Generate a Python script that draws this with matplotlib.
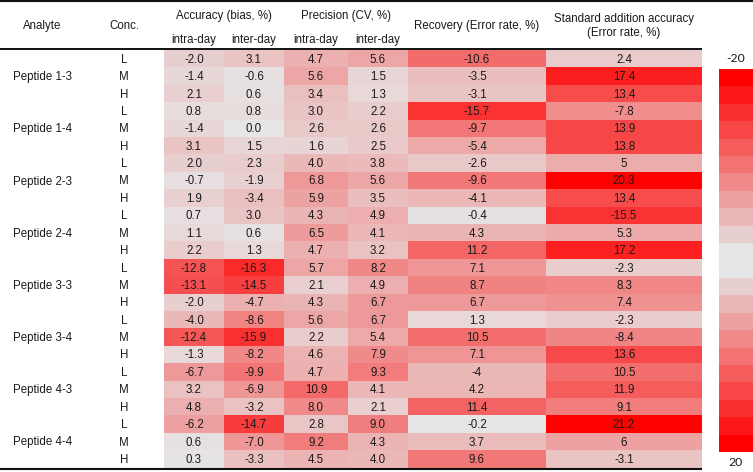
import numpy as np
import matplotlib
matplotlib.use("Agg")
import matplotlib.pyplot as plt
from matplotlib.colors import LinearSegmentedColormap, Normalize

# ---------------- data ----------------
analytes = ["Peptide 1-3", "Peptide 1-4", "Peptide 2-3", "Peptide 2-4",
            "Peptide 3-3", "Peptide 3-4", "Peptide 4-3", "Peptide 4-4"]
conc = ["L", "M", "H"]

acc_intra = ["-2.0", "-1.4", "2.1", "0.8", "-1.4", "3.1", "2.0", "-0.7", "1.9", "0.7", "1.1", "2.2",
             "-12.8", "-13.1", "-2.0", "-4.0", "-12.4", "-1.3", "-6.7", "3.2", "4.8", "-6.2", "0.6", "0.3"]
acc_inter = ["3.1", "-0.6", "0.6", "0.8", "0.0", "1.5", "2.3", "-1.9", "-3.4", "3.0", "0.6", "1.3",
             "-16.3", "-14.5", "-4.7", "-8.6", "-15.9", "-8.2", "-9.9", "-6.9", "-3.2", "-14.7", "-7.0", "-3.3"]
prec_intra = ["4.7", "5.6", "3.4", "3.0", "2.6", "1.6", "4.0", "6.8", "5.9", "4.3", "6.5", "4.7",
              "5.7", "2.1", "4.3", "5.6", "2.2", "4.6", "4.7", "10.9", "8.0", "2.8", "9.2", "4.5"]
prec_inter = ["5.6", "1.5", "1.3", "2.2", "2.6", "2.5", "3.8", "5.6", "3.5", "4.9", "4.1", "3.2",
              "8.2", "4.9", "6.7", "6.7", "5.4", "7.9", "9.3", "4.1", "2.1", "9.0", "4.3", "4.0"]
recovery = ["-10.6", "-3.5", "-3.1", "-15.7", "-9.7", "-5.4", "-2.6", "-9.6", "-4.1", "-0.4", "4.3", "11.2",
            "7.1", "8.7", "6.7", "1.3", "10.5", "7.1", "-4", "4.2", "11.4", "-0.2", "3.7", "9.6"]
std_add = ["2.4", "17.4", "13.4", "-7.8", "13.9", "13.8", "5", "20.3", "13.4", "-15.5", "5.3", "17.2",
           "-2.3", "8.3", "7.4", "-2.3", "-8.4", "13.6", "10.5", "11.9", "9.1", "21.2", "6", "-3.1"]

columns = [acc_intra, acc_inter, prec_intra, prec_inter, recovery, std_add]
colorbar_min, colorbar_max = -20, 20

# ---------------- layout (pixels) ----------------
W, H = 753, 472
xedges = np.array([164, 224, 284, 348, 408, 546, 702], dtype=float)
row_h = 17.4
y0 = 50.0
nrows = len(acc_intra)
yedges = y0 + row_h * np.arange(nrows + 1)

font = "Liberation Sans"
fs = 8.3
txt_col = "#1a1a1a"

cmap = LinearSegmentedColormap.from_list("grey_red", ["#E6E6E6", "#FF0000"])
norm = Normalize(vmin=0, vmax=20)

fig = plt.figure(figsize=(W / 100, H / 100), dpi=100)
ax = fig.add_axes([0, 0, 1, 1])
ax.set_xlim(0, W)
ax.set_ylim(H, 0)
ax.axis("off")

# heat cells
vals = np.array([[float(v) for v in col] for col in columns]).T  # rows x cols
ax.pcolormesh(xedges, yedges, np.abs(vals), cmap=cmap, norm=norm, shading="flat")

# cell texts
xc = (xedges[:-1] + xedges[1:]) / 2
yc = (yedges[:-1] + yedges[1:]) / 2 + 1.0
for j, col in enumerate(columns):
    for i, s in enumerate(col):
        ax.text(xc[j], yc[i], s, ha="center", va="center", fontsize=fs,
                family=font, color=txt_col)

# row labels
for i in range(nrows):
    ax.text(124, yc[i], conc[i % 3], ha="center", va="center", fontsize=fs,
            family=font, color=txt_col)
for k, a in enumerate(analytes):
    ax.text(13, yc[3 * k + 1], a, ha="left", va="center", fontsize=fs,
            family=font, color=txt_col)

# headers
hdr = dict(fontsize=fs, family=font, color=txt_col, va="center")
ax.text(42, 26, "Analyte", ha="center", **hdr)
ax.text(124, 26, "Conc.", ha="center", **hdr)
ax.text((xedges[0] + xedges[2]) / 2, 16, "Accuracy (bias, %)", ha="center", **hdr)
ax.text((xedges[2] + xedges[4]) / 2, 16, "Precision (CV, %)", ha="center", **hdr)
for j in range(4):
    ax.text(xc[j], 39.5, ["intra-day", "inter-day"][j % 2], ha="center", **hdr)
ax.text(xc[4], 26, "Recovery (Error rate, %)", ha="center", **hdr)
ax.text(xc[5], 19, "Standard addition accuracy", ha="center", **hdr)
ax.text(xc[5], 33, "(Error rate, %)", ha="center", **hdr)

# rules
ax.plot([0, W], [1.2, 1.2], color="#111111", lw=1.5, solid_capstyle="butt")
ax.plot([0, xedges[-1]], [49.2, 49.2], color="#111111", lw=1.4, solid_capstyle="butt")
ax.plot([0, xedges[-1]], [468.6, 468.6], color="#111111", lw=1.5, solid_capstyle="butt")

# colour scale
cb_levels = np.concatenate([np.arange(colorbar_min, 0, 2), [0, 0], np.arange(2, colorbar_max + 1, 2)])
cb_edges = np.linspace(69, 452, len(cb_levels) + 1)
ax.pcolormesh([719, 770], cb_edges, np.abs(cb_levels).reshape(-1, 1), cmap=cmap, norm=norm,
              shading="flat")
ax.text(736, 59, str(colorbar_min), ha="center", va="center", fontsize=8.8, family="Lato", color=txt_col)
ax.text(736, 463, str(colorbar_max), ha="center", va="center", fontsize=8.8, family="Lato", color=txt_col)

fig.savefig("out.png", dpi=100)
